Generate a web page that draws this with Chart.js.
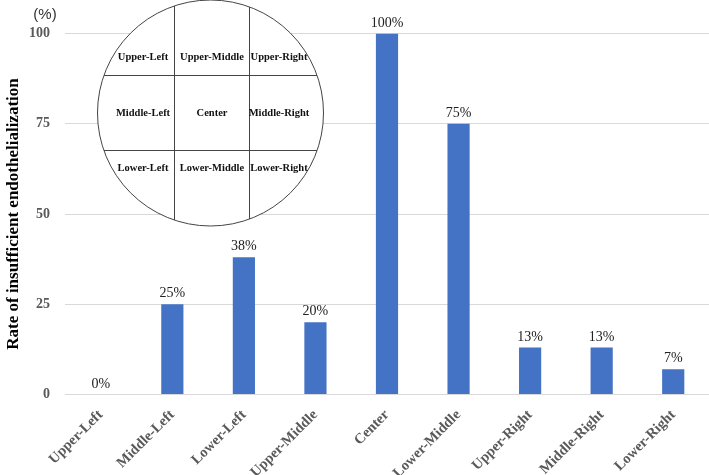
<!DOCTYPE html>
<html>
<head>
<meta charset="utf-8">
<script src="https://cdn.jsdelivr.net/npm/chart.js@4"></script>
<style>
html,body{margin:0;padding:0;background:#fff;}
#wrap{width:709px;height:475px;position:relative;}
</style>
</head>
<body>
<div id="wrap"><canvas id="c" width="709" height="475"></canvas></div>
<script>
const categories = ['Upper-Left','Middle-Left','Lower-Left','Upper-Middle','Center','Lower-Middle','Upper-Right','Middle-Right','Lower-Right'];
const rates = [0,25,38,20,100,75,13,13,7];
const yTicks = [0,25,50,75,100];
const gridRows = [
  ['Upper-Left','Upper-Middle','Upper-Right'],
  ['Middle-Left','Center','Middle-Right'],
  ['Lower-Left','Lower-Middle','Lower-Right']
];

const SERIF = '"Liberation Serif","Times New Roman",serif';

const decor = {
  id: 'decor',
  afterDatasetsDraw(chart) {
    const ctx = chart.ctx;
    const meta = chart.getDatasetMeta(0);
    ctx.save();
    // value labels
    ctx.font = '14px ' + SERIF;
    ctx.fillStyle = '#222';
    ctx.textAlign = 'center';
    ctx.textBaseline = 'alphabetic';
    meta.data.forEach((bar, i) => {
      ctx.fillText(rates[i] + '%', bar.x, bar.y - 7);
    });
    // (%) unit label
    ctx.font = '15px "Liberation Sans", Arial, sans-serif';
    ctx.fillStyle = '#333';
    ctx.textAlign = 'center';
    ctx.textBaseline = 'middle';
    ctx.fillText('(%)', 45, 15);
    // inset circle diagram
    const cx = 210.5, cy = 113, r = 113;
    ctx.beginPath();
    ctx.arc(cx, cy, r, 0, Math.PI * 2);
    ctx.fillStyle = '#fff';
    ctx.fill();
    ctx.lineWidth = 1;
    ctx.strokeStyle = '#444';
    ctx.stroke();
    ctx.save();
    ctx.beginPath();
    ctx.arc(cx, cy, r, 0, Math.PI * 2);
    ctx.clip();
    ctx.beginPath();
    const vx = [174.5, 249.5], hy = [75.5, 150.5];
    vx.forEach(x => { ctx.moveTo(x, 0); ctx.lineTo(x, 240); });
    hy.forEach(y => { ctx.moveTo(80, y); ctx.lineTo(340, y); });
    ctx.stroke();
    ctx.restore();
    ctx.font = 'bold 10.5px ' + SERIF;
    ctx.fillStyle = '#111';
    ctx.textAlign = 'center';
    ctx.textBaseline = 'middle';
    const colX = [143, 212, 279];
    const rowY = [57, 113, 168];
    gridRows.forEach((row, ri) => row.forEach((t, ci) => ctx.fillText(t, colX[ci], rowY[ri])));
    ctx.restore();
  }
};

new Chart(document.getElementById('c'), {
  type: 'bar',
  data: {
    labels: categories,
    datasets: [{
      data: rates,
      backgroundColor: '#4472c4',
      borderWidth: 0,
      barPercentage: 0.31,
      categoryPercentage: 1.0
    }]
  },
  options: {
    responsive: false,
    animation: false,
    devicePixelRatio: 1,
    layout: { padding: { top: 33.5, right: 0, left: 0, bottom: 0 } },
    plugins: { legend: { display: false }, tooltip: { enabled: false } },
    scales: {
      x: {
        grid: { display: false },
        border: { display: false },
        ticks: {
          autoSkip: false,
          minRotation: 45,
          maxRotation: 45,
          color: '#595959',
          font: { family: SERIF, size: 14.5, weight: 'bold' },
          padding: 4
        },
        afterFit(scale) { scale.height = 80.5; }
      },
      y: {
        min: 0,
        max: 100,
        afterBuildTicks(scale) { scale.ticks = yTicks.map(v => ({ value: v })); },
        grid: { color: '#d9d9d9', drawTicks: false },
        border: { display: false },
        ticks: {
          color: '#595959',
          font: { family: SERIF, size: 14, weight: 'bold' },
          padding: 15
        },
        title: {
          display: true,
          text: 'Rate of insufficient endothelialization',
          color: '#000',
          font: { family: SERIF, size: 17, weight: 'bold' },
          padding: { top: 3, bottom: 0 }
        },
        afterFit(scale) { scale.width = 65; }
      }
    }
  },
  plugins: [decor]
});
</script>
</body>
</html>
